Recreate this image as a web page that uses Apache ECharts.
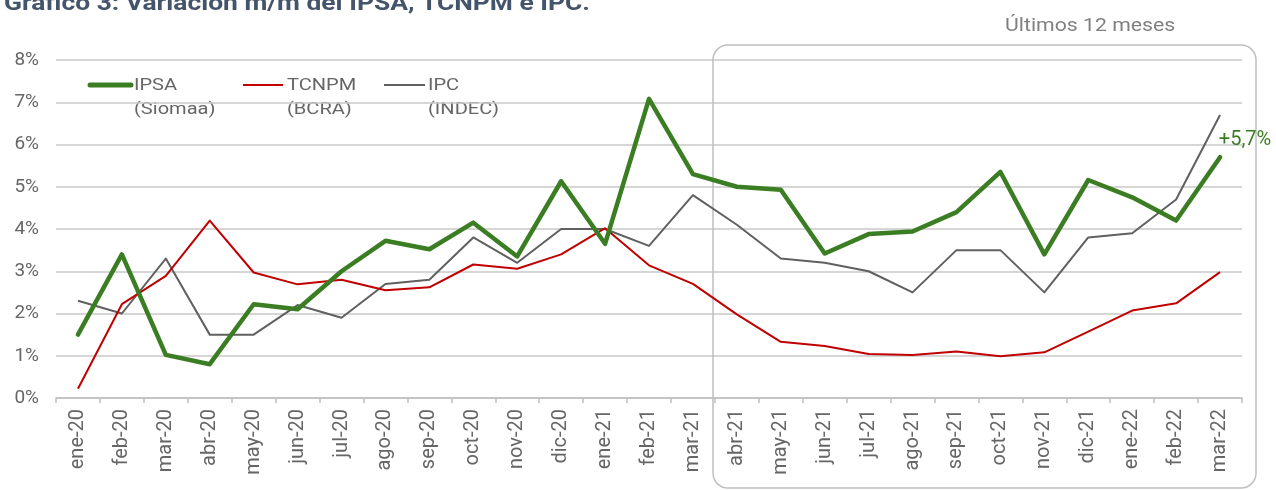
<!DOCTYPE html>
<html>
<head>
<meta charset="utf-8">
<script src="https://cdn.jsdelivr.net/npm/echarts@6/dist/echarts.min.js"></script>
<style>
html,body{margin:0;padding:0;background:#fff;}
#c{width:1276px;height:490px;}
</style>
</head>
<body>
<div id="c"></div>
<script>
const categories = ['ene-20','feb-20','mar-20','abr-20','may-20','jun-20','jul-20','ago-20','sep-20','oct-20','nov-20','dic-20',
  'ene-21','feb-21','mar-21','abr-21','may-21','jun-21','jul-21','ago-21','sep-21','oct-21','nov-21','dic-21',
  'ene-22','feb-22','mar-22'];
const ipsa = [1.5,3.4,1.02,0.8,2.22,2.1,3.0,3.72,3.52,4.15,3.35,5.13,3.65,7.08,5.3,5.0,4.93,3.42,3.88,3.94,4.4,5.35,3.4,5.16,4.75,4.2,5.7];
const tcnpm = [0.22,2.22,2.89,4.2,2.97,2.69,2.8,2.55,2.62,3.16,3.06,3.4,4.02,3.14,2.7,1.98,1.33,1.23,1.04,1.02,1.1,0.99,1.08,1.57,2.07,2.24,2.98];
const ipc = [2.3,2.0,3.3,1.5,1.5,2.2,1.9,2.7,2.8,3.8,3.2,4.0,4.0,3.6,4.8,4.1,3.3,3.2,3.0,2.5,3.5,3.5,2.5,3.8,3.9,4.7,6.7];
const yTicks = [0,1,2,3,4,5,6,7,8];

const GREEN = '#3b7d23', RED = '#c00000', GRAY = '#606060', TXT = '#666666';
const FONT = 'Roboto';
const SX = 1.18;

const chart = echarts.init(document.getElementById('c'), null, {renderer:'canvas'});
chart.setOption({
  animation:false,
  grid:{left:56, right:34, top:60, bottom:92},
  xAxis:{
    type:'category', data:categories, boundaryGap:true,
    axisLine:{lineStyle:{color:'#bfbfbf', width:1.5}},
    axisTick:{show:true, length:5, lineStyle:{color:'#bfbfbf', width:1.5}},
    axisLabel:{interval:0, rotate:90, color:TXT, fontFamily:FONT, fontSize:20, margin:11}
  },
  yAxis:{
    type:'value', min:yTicks[0], max:yTicks[yTicks.length-1], interval:1,
    axisLine:{show:false}, axisTick:{show:false},
    splitLine:{lineStyle:{color:'#c8c8c8', width:1.5}},
    axisLabel:{color:TXT, fontFamily:FONT, fontSize:19, margin:17, formatter:v=>v+'%'}
  },
  series:[
    {name:'IPC', type:'line', data:ipc, symbol:'none', z:2,
      lineStyle:{color:GRAY, width:2, join:'round'}},
    {name:'TCNPM', type:'line', data:tcnpm, symbol:'none', z:3,
      lineStyle:{color:RED, width:2, join:'round'}},
    {name:'IPSA', type:'line', data:ipsa.map((v,i)=> i===ipsa.length-1 ? {value:v, symbol:'circle', symbolSize:0.1,
        label:{show:true, position:'top', offset:[25,-2], formatter:'+5,7%', color:GREEN, fontFamily:FONT, fontSize:20}} : v),
      symbol:'none', z:4,
      lineStyle:{color:GREEN, width:4.5, join:'round', cap:'round'}}
  ],
  graphic:[
    {type:'text', x:4, y:-7, scaleX:1.2, style:{text:'Gráfico 3: Variación m/m del IPSA, TCNPM e IPC.', fill:'#44546a',
      font:'bold 22px Roboto'}},
    {type:'text', x:1005, y:17, scaleX:SX, style:{text:'Últimos 12 meses', fill:'#808080', font:'18px Roboto'}},
    {type:'rect', shape:{x:713, y:45, width:543, height:443, r:15}, style:{fill:'none', stroke:'#bfbfbf', lineWidth:1.5}, z:1},
    {type:'line', shape:{x1:90,y1:85,x2:131,y2:85}, style:{stroke:GREEN, lineWidth:5, lineCap:'round'}},
    {type:'text', x:134, y:74, scaleX:SX, style:{text:'IPSA\n(Siomaa)', fill:TXT, font:'17px Roboto', lineHeight:24}},
    {type:'line', shape:{x1:243,y1:85,x2:283,y2:85}, style:{stroke:RED, lineWidth:2}},
    {type:'text', x:287, y:74, scaleX:SX, style:{text:'TCNPM\n(BCRA)', fill:TXT, font:'17px Roboto', lineHeight:24}},
    {type:'line', shape:{x1:384,y1:85,x2:425,y2:85}, style:{stroke:GRAY, lineWidth:2}},
    {type:'text', x:428, y:74, scaleX:SX, style:{text:'IPC\n(INDEC)', fill:TXT, font:'17px Roboto', lineHeight:24}}
  ]
});
</script>
</body>
</html>
